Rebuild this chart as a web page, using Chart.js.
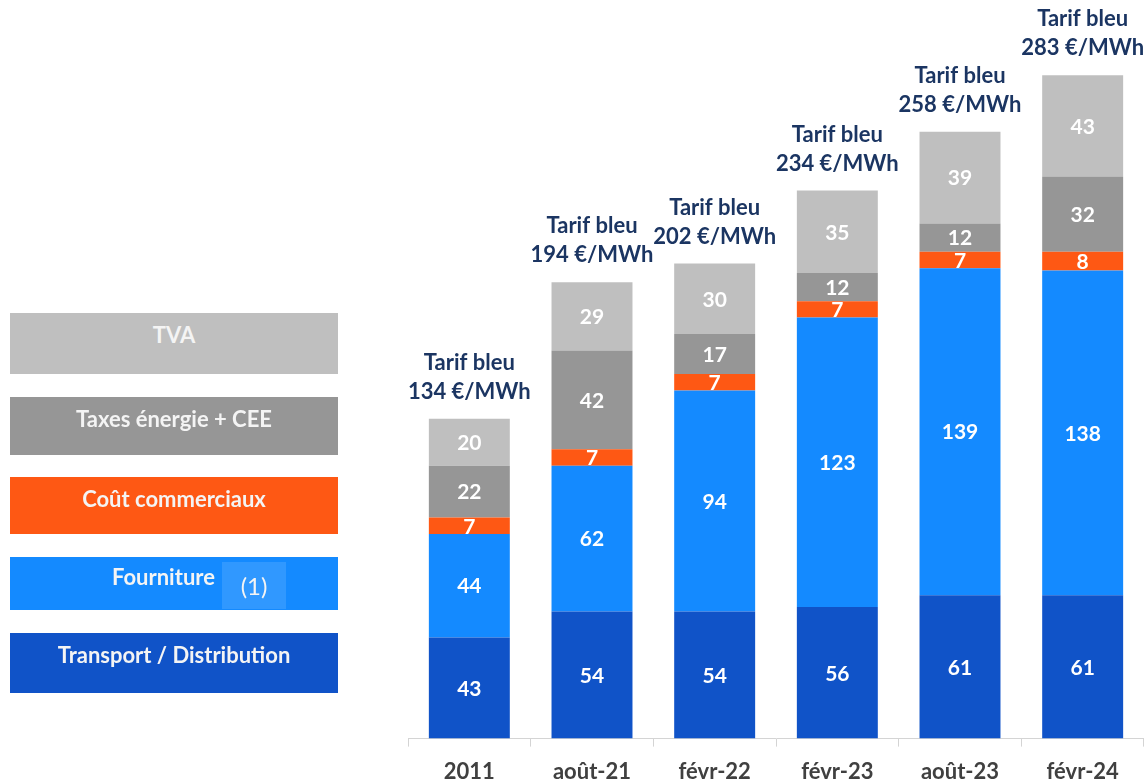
<!DOCTYPE html>
<html>
<head>
<meta charset="utf-8">
<script src="https://cdn.jsdelivr.net/npm/chart.js@4.4.1/dist/chart.umd.min.js"></script>
<style>
  body { margin: 0; background: #fff; font-family: Lato, sans-serif; overflow: hidden; }
  #wrap { position: relative; width: 1144px; height: 780px; overflow: hidden; }
  #graph { position: absolute; left: 0; top: 0; }
  .leg { position: absolute; left: 10px; width: 328px; color: #f4f4f4; font-weight: bold;
         font-size: 22px; line-height: 26px; text-align: center; box-sizing: border-box; }
  .note { position: absolute; left: 212px; top: 5px; background: rgba(255,255,255,0.12); font-weight: normal;
          font-size: 24px; width: 64px; height: 47px; line-height: 47px; text-align: center; }
</style>
</head>
<body>
<div id="wrap">
  <canvas id="graph" width="1144" height="801"></canvas>
  <div class="leg" style="top:313px;height:61px;background:#bfbfbf;padding-top:9px;">TVA</div>
  <div class="leg" style="top:397px;height:58px;background:#969696;padding-top:9px;">Taxes énergie + CEE</div>
  <div class="leg" style="top:477px;height:57px;background:#fe5814;padding-top:9px;">Coût commerciaux</div>
  <div class="leg" style="top:557px;height:53px;background:#148aff;padding-top:7px;text-align:left;padding-left:102px;">Fourniture<span class="note">(1)</span></div>
  <div class="leg" style="top:633px;height:60px;background:#1053c8;padding-top:9px;">Transport / Distribution</div>
</div>
<script>
// catégories et valeurs (€/MWh)
const periodes = ['2011', 'août-21', 'févr-22', 'févr-23', 'août-23', 'févr-24'];
const transport = [43, 54, 54, 56, 61, 61];
const fourniture = [44, 62, 94, 123, 139, 138];
const coutsCommerciaux = [7, 7, 7, 7, 7, 8];
const taxes = [22, 42, 17, 12, 12, 32];
const tva = [20, 29, 30, 35, 39, 43];
const tarifBleu = [134, 194, 202, 234, 258, 283];

// Étiquettes dans les barres + "Tarif bleu" au-dessus
const etiquettes = {
    id: 'etiquettes',
    afterDatasetsDraw(chart) {
        const ctx = chart.ctx;
        ctx.save();
        ctx.textAlign = 'center';
        ctx.textBaseline = 'middle';
        ctx.fillStyle = '#ffffff';
        ctx.font = 'bold 21px Lato';
        chart.data.datasets.forEach((ds, i) => {
            chart.getDatasetMeta(i).data.forEach((bar, j) => {
                ctx.fillText(String(ds.data[j]), bar.x, (bar.y + bar.base) / 2 + 1);
            });
        });
        // total au-dessus
        const last = chart.getDatasetMeta(chart.data.datasets.length - 1).data;
        ctx.fillStyle = '#1b3562';
        ctx.font = 'bold 22px Lato';
        last.forEach((bar, j) => {
            ctx.fillText('Tarif bleu', bar.x, bar.y - 56);
            ctx.fillText(tarifBleu[j] + ' €/MWh', bar.x, bar.y - 27);
        });
        ctx.restore();
    }
};

new Chart(document.getElementById('graph').getContext('2d'), {
    type: 'bar',
    data: {
        labels: periodes,
        datasets: [
            { label: 'Transport / Distribution', data: transport, backgroundColor: '#1053c8' },
            { label: 'Fourniture', data: fourniture, backgroundColor: '#148aff' },
            { label: 'Coût commerciaux', data: coutsCommerciaux, backgroundColor: '#fe5814' },
            { label: 'Taxes énergie + CEE', data: taxes, backgroundColor: '#969696' },
            { label: 'TVA', data: tva, backgroundColor: '#bfbfbf' }
        ]
    },
    options: {
        responsive: false,
        animation: false,
        datasets: { bar: { barPercentage: 0.66, categoryPercentage: 1 } },
        layout: { padding: { left: 408, right: 0, top: 33, bottom: 4 } },
        scales: {
            x: {
                stacked: true,
                border: { color: '#d4d4d4', width: 1 },
                grid: { drawOnChartArea: false, color: '#d4d4d4', tickLength: 8 },
                ticks: { color: '#404040', padding: 12, font: { family: 'Lato', size: 22, weight: 'bold' } }
            },
            y: {
                stacked: true,
                display: false,
                min: 0,
                max: 300
            }
        },
        plugins: {
            legend: { display: false },
            tooltip: { enabled: false }
        }
    },
    plugins: [etiquettes]
});
</script>
</body>
</html>
